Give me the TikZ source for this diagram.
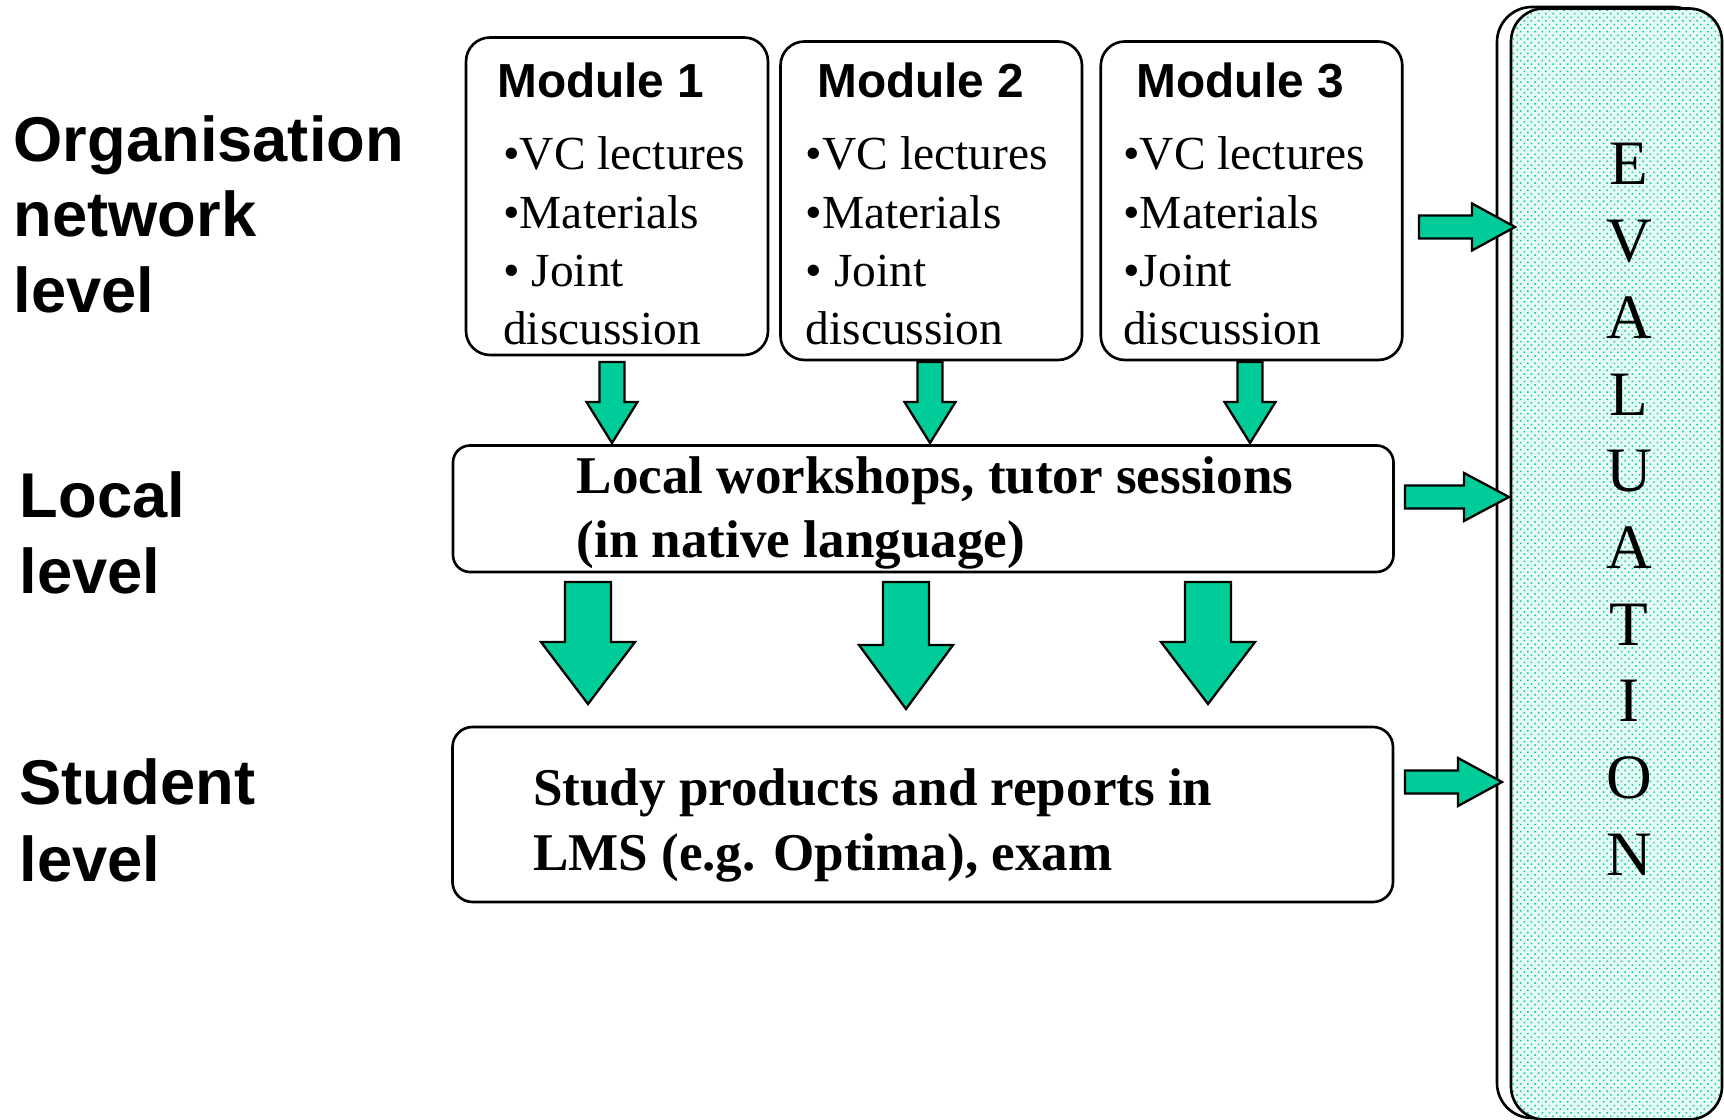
\documentclass[tikz,border=0pt]{standalone}
\usepackage{fontspec}
\setmainfont{Liberation Serif}
\setsansfont{Liberation Sans}
\usetikzlibrary{calc,patterns.meta}
\definecolor{arrowgreen}{RGB}{0,204,153}
\newlength\pxu
\setlength\pxu{0.1mm}
% block arrow pointing down: #1 top-centre, #2 tip, #3 head length, #4 shaft half width, #5 head half width (px)
\newcommand\blockdown[5]{%
  \path[blockarr] let \p1=(#1), \p2=(#2) in
    (\x1-#4*\pxu,\y1) -- (\x1+#4*\pxu,\y1) -- (\x1+#4*\pxu,\y2+#3*\pxu)
    -- (\x1+#5*\pxu,\y2+#3*\pxu) -- (\x1,\y2) -- (\x1-#5*\pxu,\y2+#3*\pxu)
    -- (\x1-#4*\pxu,\y2+#3*\pxu) -- cycle;}
% block arrow pointing right: #1 tail-centre, #2 tip
\newcommand\blockright[5]{%
  \path[blockarr] let \p1=(#1), \p2=(#2) in
    (\x1,\y1+#4*\pxu) -- (\x2-#3*\pxu,\y1+#4*\pxu) -- (\x2-#3*\pxu,\y1+#5*\pxu)
    -- (\x2,\y1) -- (\x2-#3*\pxu,\y1-#5*\pxu) -- (\x2-#3*\pxu,\y1-#4*\pxu)
    -- (\x1,\y1-#4*\pxu) -- cycle;}
\begin{document}
\begin{tikzpicture}[x=0.1mm,y=-0.1mm,
  box/.style={draw=black, line width=0.75pt, fill=white, inner sep=0pt, outer sep=0pt, anchor=north west},
  blockarr/.style={fill=arrowgreen, draw=black, line width=0.65pt, line join=miter},
  txt/.style={inner sep=0pt, anchor=base west},
  lbl/.style={txt, font=\sffamily\bfseries\fontsize{18}{21.5}\selectfont},
  modtitle/.style={txt, font=\sffamily\bfseries\fontsize{13.6}{16}\selectfont},
  modline/.style={txt, font=\fontsize{13.5}{16}\selectfont},
  boldline/.style={txt, font=\bfseries\fontsize{15.1}{18}\selectfont},
  evalletter/.style={inner sep=0pt, anchor=base, font=\fontsize{18}{21}\selectfont}]
\useasboundingbox (0,0) rectangle (1724,1120);
\clip (0,0) rectangle (1724,1120);
\fill[white] (0,0) rectangle (1724,1120);

% ---- left level labels
\node[lbl] (org1) at (13,161.7) {Organisation};
\node[lbl] (org2) at (13,236.7) {network};
\node[lbl] (org3) at (13,312.7) {level};
\node[lbl] (loc1) at (19,518) {Local};
\node[lbl] (loc2) at (19,594) {level};
\node[lbl] (stu1) at (19,805) {Student};
\node[lbl] (stu2) at (19,881.7) {level};

% ---- module boxes
\node[box, rounded corners=2.4mm, minimum width=30.2mm, minimum height=31.75mm] (m1) at (466,37.5) {};
\node[box, rounded corners=2.4mm, minimum width=30.15mm, minimum height=31.85mm] (m2) at (780.5,41.5) {};
\node[box, rounded corners=2.4mm, minimum width=30.15mm, minimum height=31.85mm] (m3) at (1100.8,41.5) {};

\node[modtitle] (m1t) at (496.5,98) {Module 1};
\node[modline] (m1a) at (502.5,170) {•VC lectures};
\node[modline] (m1b) at (502.5,228.5) {•Materials};
\node[modline] (m1c) at (502.5,287) {• Joint};
\node[modline] (m1d) at (502.5,345) {discussion};

\node[modtitle] (m2t) at (816.5,98) {Module 2};
\node[modline] (m2a) at (805,170) {•VC lectures};
\node[modline] (m2b) at (805,228.5) {•Materials};
\node[modline] (m2c) at (805,287) {• Joint};
\node[modline] (m2d) at (805,345) {discussion};

\node[modtitle] (m3t) at (1136,98) {Module 3};
\node[modline] (m3a) at (1122.5,170) {•VC lectures};
\node[modline] (m3b) at (1122.5,228.5) {•Materials};
\node[modline] (m3c) at (1122.5,287) {•Joint};
\node[modline] (m3d) at (1122.5,345) {discussion};

% ---- local and student boxes
\node[box, rounded corners=1.7mm, minimum width=94.05mm, minimum height=12.65mm] (local) at (453,445.5) {};
\node[boldline] (loct1) at (576,493.5) {Local workshops, tutor sessions};
\node[boldline] (loct2) at (576,558) {(in native language)};

\node[box, rounded corners=2mm, minimum width=94.05mm, minimum height=17.5mm] (student) at (452.5,727) {};
\node[boldline] (stut1) at (532.5,806) {Study products and reports in};
\node[boldline] (stut2) at (532.5,871) {LMS (e.g. Optima), exam};

% ---- evaluation box
\node[box, rounded corners=3.5mm, minimum width=21.1mm, minimum height=111.1mm] (evalback) at (1497,7) {};
\node[box, rounded corners=3.3mm, minimum width=21.1mm, minimum height=111.1mm,
      preaction={fill=arrowgreen!10}, pattern={Dots[radius=0.3pt, distance=1.45pt, angle=45]},
      pattern color=arrowgreen] (eval) at (1511,8.5) {};
\foreach \l [count=\i] in {E,V,A,L,U,A,T,I,O,N}
  \node[evalletter] (ev\i) at (1629,{185+(\i-1)*76.7}) {\l};

% ---- arrow anchor coordinates
\coordinate (d1s) at (612,362);  \coordinate (d1e) at (612,443);
\coordinate (d2s) at (930,362);  \coordinate (d2e) at (930,443);
\coordinate (d3s) at (1250,362); \coordinate (d3e) at (1250,443);
\coordinate (b1s) at (588,582);  \coordinate (b1e) at (588,704);
\coordinate (b2s) at (906,582);  \coordinate (b2e) at (906,709);
\coordinate (b3s) at (1208,582); \coordinate (b3e) at (1208,704);
\coordinate (r1s) at (1419,227); \coordinate (r1e) at (1515,227);
\coordinate (r2s) at (1405,497); \coordinate (r2e) at (1509,497);
\coordinate (r3s) at (1405,782); \coordinate (r3e) at (1502,782);

% ---- arrows
\blockdown{d1s}{d1e}{41}{12.5}{25.5}
\blockdown{d2s}{d2e}{41}{12.5}{25.5}
\blockdown{d3s}{d3e}{41}{12.5}{25.5}
\blockdown{b1s}{b1e}{62}{23}{47}
\blockdown{b2s}{b2e}{64}{23}{47}
\blockdown{b3s}{b3e}{62}{23}{47}
\blockright{r1s}{r1e}{43}{11.5}{23.5}
\blockright{r2s}{r2e}{45}{11.5}{24}
\blockright{r3s}{r3e}{44}{11.5}{24}
\end{tikzpicture}
\end{document}
